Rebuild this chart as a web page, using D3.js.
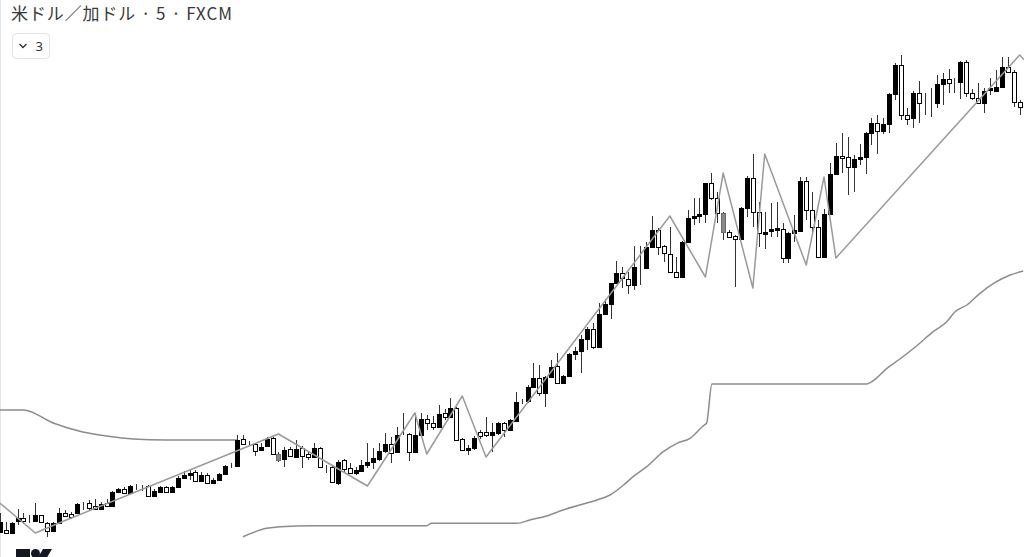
<!DOCTYPE html>
<html>
<head>
<meta charset="utf-8">
<script src="https://cdn.jsdelivr.net/npm/d3@7"></script>
<style>
  html, body { margin: 0; padding: 0; background: #fff; overflow: hidden; }
  svg { display: block; }
</style>
</head>
<body>
<div id="chart"></div>
<script>
// price levels (chart units, higher = up)
const open  = [28,30,27,39,42,42,39,45,37,29,37,47,46,47,56,57,54,51,57,54,68,71,67,73,73,74,64,68,73,68,
               73,82,85,88,79,85,77,80,86,94,94,121,117,116,110,114,122,106,101,111,103,112,106,103,112,93,93,77,100,92,
               87,89,95,98,101,109,116,108,126,126,108,125,141,137,133,147,143,152,121,110,112,128,128,125,127,137,130,139,158,159,
               173,182,167,183,194,177,184,206,209,221,231,213,246,256,277,287,281,275,292,292,313,330,314,306,288,283,318,342,344,346,
               377,362,347,328,324,321,352,382,348,326,329,330,331,302,327,329,379,350,333,303,346,386,404,403,393,401,403,427,437,429,
               436,466,495,445,442,467,457,457,457,476,481,477,478,498,467,462,457,470,469,473,493,488,458];
const high  = [47,38,38,51,47,45,57,45,38,38,52,50,48,57,58,60,61,58,61,69,72,73,75,76,75,75,71,74,74,74,
               84,89,90,90,88,87,82,87,95,97,125,125,119,117,117,123,123,108,113,113,120,114,108,117,113,95,95,100,101,97,
               93,100,117,112,117,127,123,133,147,127,147,147,145,144,155,151,162,153,122,115,124,130,143,137,138,138,141,168,161,175,
               197,195,184,200,207,185,207,213,225,233,237,257,261,277,299,293,288,314,314,318,344,332,315,333,303,319,350,362,362,377,
               387,368,348,330,325,353,384,406,358,348,357,358,337,328,345,383,383,368,340,351,397,417,427,423,405,416,428,442,445,442,
               467,497,505,452,469,479,467,472,485,487,491,482,499,500,471,477,472,482,490,503,503,490,460];
const low   = [27,27,27,35,36,37,38,37,23,28,36,43,41,46,50,50,50,51,53,53,67,67,66,70,69,63,63,67,67,67,
               72,82,80,78,78,77,77,79,85,92,93,115,114,104,109,113,105,98,93,103,103,92,100,102,92,87,77,75,88,87,
               85,88,92,91,99,107,97,107,125,99,108,123,130,130,133,140,142,119,109,105,110,121,123,108,125,123,129,138,156,157,
               172,164,153,182,176,176,183,200,187,210,211,212,245,241,276,272,266,270,275,291,312,305,298,287,283,282,317,335,337,337,
               360,337,320,322,273,320,343,333,313,311,323,323,297,297,318,328,340,325,302,302,345,385,387,365,368,395,386,415,406,426,
               427,460,440,435,432,437,445,443,452,455,467,467,461,463,460,456,447,465,468,473,487,453,445];
const close = [38,27,37,42,39,42,45,38,29,37,47,44,43,56,56,52,51,56,54,68,71,67,74,73,73,64,69,73,68,73,
               82,85,87,79,85,77,80,86,94,94,120,116,117,109,113,121,106,100,110,104,111,104,103,112,93,93,78,98,91,87,
               90,95,98,102,109,116,107,125,126,108,125,141,137,133,146,143,152,120,110,112,122,124,125,128,137,130,140,158,158,173,
               182,167,183,193,177,184,206,209,221,231,213,246,256,277,287,282,275,293,292,313,330,313,307,288,283,318,342,344,346,377,
               362,347,328,323,321,352,382,348,327,328,331,332,302,327,330,379,350,333,303,346,386,404,402,393,401,403,427,437,429,436,
               466,495,445,441,467,457,457,457,476,481,477,477,498,467,462,457,469,472,473,493,488,458,453];
const grayBars = [47, 122];

// zigzag pivots (bar index, level)
const zigBar = [0, 6, 10, 47, 62, 70, 72, 78, 82, 113, 119, 122, 127, 129, 136, 139, 141, 172, 172.8];
const zigVal = [57, 27, 37, 126, 74, 147, 106, 164, 103, 344, 283, 387, 272, 406, 295, 383, 302, 505, 500];

// upper band (left part)
const upperBar = [0, 4, 9, 14, 18, 22.5, 28, 40];
const upperVal = [150, 150, 137, 128, 124, 121, 120, 120];

// lower band
const lowerBar = [41, 45, 47.3, 52.8, 72, 72.8, 87.2, 89.4, 92.2, 95, 97.8, 100.7, 102.9, 105.2, 106.8, 109.1, 111.9,
                  114.2, 116.4, 118.6, 119.2, 120.1, 146.2, 147.3, 149.6, 151.8, 154.6, 157.4, 159.7, 161.1, 163.1,
                  165.3, 167.8, 170.4, 172.6];
const lowerVal = [23.3, 31.7, 33.3, 34.3, 34.3, 36.7, 36.7, 40, 44, 50, 55, 60, 65, 75, 83.3, 93.3, 108.3,
                  116.7, 121.7, 134, 137, 176, 176, 179.3, 191.7, 201, 214, 228.3, 238.3, 248.3, 255,
                  266.7, 277.3, 285, 289];

const title = "米ドル／加ドル · 5 · FXCM";
const intervalsShown = "3";

const W = 1024, H = 557;
const svg = d3.select("#chart").append("svg")
  .attr("width", W)
  .attr("height", H);

const x = d3.scaleLinear().domain([0, open.length - 1]).range([-0.23, 1019.7]);
const y = d3.scaleLinear().domain([0, 560]).range([560, 0]);

// left pane border
svg.append("line")
  .attr("x1", 0.5).attr("x2", 0.5)
  .attr("y1", 0).attr("y2", H)
  .attr("stroke", "#e0e3eb");

const lineGen = d3.line()
  .x(d => x(d[0]))
  .y(d => y(d[1]));

// bands
svg.append("path")
  .datum(upperBar.map((b, i) => [b, upperVal[i]]))
  .attr("fill", "none")
  .attr("stroke", "#8c8c8c")
  .attr("stroke-width", 1.5)
  .attr("d", lineGen.curve(d3.curveMonotoneX));

svg.append("path")
  .datum(lowerBar.map((b, i) => [b, lowerVal[i]]))
  .attr("fill", "none")
  .attr("stroke", "#8c8c8c")
  .attr("stroke-width", 1.5)
  .attr("d", lineGen.curve(d3.curveMonotoneX));

// candles
const bars = d3.range(open.length);
const cx = i => Math.round(x(i));

const candles = svg.append("g");

candles.selectAll("line.wick")
  .data(bars)
  .join("line")
  .attr("class", "wick")
  .attr("x1", i => cx(i) + 0.5)
  .attr("x2", i => cx(i) + 0.5)
  .attr("y1", i => y(high[i]))
  .attr("y2", i => y(low[i]))
  .attr("stroke", "#333")
  .attr("stroke-width", 1);

candles.selectAll("rect.body")
  .data(bars)
  .join("rect")
  .attr("class", "body")
  .attr("x", i => cx(i) - 2 + 0.5)
  .attr("width", 4)
  .attr("y", i => Math.round(y(Math.max(open[i], close[i]))) + 0.5)
  .attr("height", i => Math.max(0, Math.round(y(Math.min(open[i], close[i]))) - Math.round(y(Math.max(open[i], close[i])))))
  .attr("fill", i => grayBars.includes(i) ? "#8a8a8a" : (close[i] > open[i] ? "#000" : "#fff"))
  .attr("stroke", i => grayBars.includes(i) ? "#6a6a6a" : "#000")
  .attr("stroke-width", 1);

// zigzag
svg.append("path")
  .datum(zigBar.map((b, i) => [b, zigVal[i]]))
  .attr("fill", "none")
  .attr("stroke", "#9a9a9a")
  .attr("stroke-width", 1.5)
  .attr("stroke-linejoin", "round")
  .attr("d", lineGen.curve(d3.curveLinear));

// legend title
svg.append("text")
  .attr("x", 11)
  .attr("y", 20)
  .attr("font-family", "'Noto Sans CJK JP', 'Noto Sans', sans-serif")
  .attr("font-size", 17)
  .attr("textLength", 221)
  .attr("lengthAdjust", "spacing")
  .attr("fill", "#3a3a3a")
  .text(title);

// collapse button
const btn = svg.append("g").attr("transform", "translate(12.5,33.5)");
btn.append("rect")
  .attr("width", 37).attr("height", 25)
  .attr("rx", 4)
  .attr("fill", "#fff")
  .attr("stroke", "#e0e3eb");
btn.append("path")
  .attr("d", "M7,10.5 L10.5,14 L14,10.5")
  .attr("fill", "none")
  .attr("stroke", "#333")
  .attr("stroke-width", 1.4);
btn.append("text")
  .attr("x", 23)
  .attr("y", 17.5)
  .attr("font-family", "'Noto Sans', sans-serif")
  .attr("font-size", 13)
  .attr("fill", "#333")
  .text(intervalsShown);

// logo (cut off at the bottom edge)
const logo = svg.append("g").attr("fill", "#131722");
logo.append("rect").attr("x", 16).attr("y", 549).attr("width", 14).attr("height", 10);
logo.append("circle").attr("cx", 35.5).attr("cy", 553.5).attr("r", 4.5);
logo.append("path").attr("d", "M43,549 L52,549 L46,559 L37,559 Z");
</script>
</body>
</html>
